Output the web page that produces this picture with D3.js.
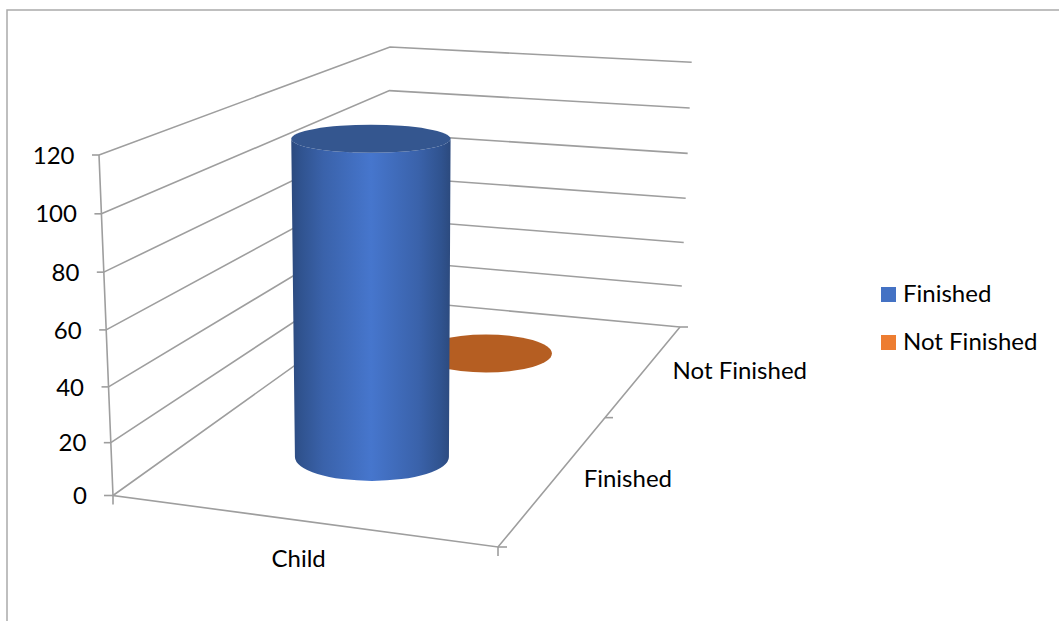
<!DOCTYPE html>
<html>
<head>
<meta charset="utf-8">
<script src="https://cdn.jsdelivr.net/npm/d3@7"></script>
<style>
html,body{margin:0;padding:0;background:#fff;overflow:hidden}
text{font-family:Lato,"Open Sans",sans-serif;fill:#000}
</style>
</head>
<body>
<svg id="chart" width="1059" height="621"></svg>
<script>
const categories = ["Child"];
const seriesNames = ["Finished", "Not Finished"];
const seriesColors = ["#4472c4", "#ed7d31"];
const finishedValues = [119];
const notFinishedValues = [0];
const valueTicks = [0, 20, 40, 60, 80, 100, 120];
const seriesValues = [finishedValues, notFinishedValues];

const FS = 24, GRID = "#9e9e9e";
const svg = d3.select("#chart");

// Perspective box: corners [floor, top] of the plot cube
const corners = {
  fl: [[113, 495.5], [99, 155]],
  fr: [[498, 547], [503, 190]],
  br: [[680, 327], [691.7, 62.3]],
  bl: [[387, 299.5], [390, 47]]
};
const valueScale = d3.scalePow().exponent(1.04).domain([0, 120]).range([0, 1]);
const catScale = d3.scaleLinear().domain([0, categories.length]).range([0, 0.98 * categories.length]);
const uScale = i => catScale(i + 0.5);
// depth is foreshortened: position along the floor for series-band coordinates
const depthScale = d3.scaleLinear().domain([0, 0.5, 1, 1.5, 2]).range([0, 0.307, 0.588, 0.805, 1]);
const rxScale = d3.scaleLinear().domain([0.307, 0.805]).range([77, 66]);
const ryScale = d3.scaleLinear().domain([0.307, 0.805]).range([24, 19]);

function project(u, v, f) {
  const lerp = d3.interpolateNumber;
  const at = (c) => [lerp(c[0][0], c[1][0])(f), lerp(c[0][1], c[1][1])(f)];
  const a = at(corners.fl), b = at(corners.fr), c = at(corners.br), d = at(corners.bl);
  const front = [lerp(a[0], b[0])(u), lerp(a[1], b[1])(u)];
  const back = [lerp(d[0], c[0])(u), lerp(d[1], c[1])(u)];
  return [lerp(front[0], back[0])(v), lerp(front[1], back[1])(v)];
}
const line = d3.line();
const stroke = (sel, w) => sel.attr("fill", "none").attr("stroke", GRID).attr("stroke-width", w);

// Frame
svg.append("path").attr("d", "M7,621V10H1059").call(stroke, 1.5).attr("stroke", "#ababab");

// Gridlines on the two walls
valueTicks.forEach(t => {
  const f = valueScale(t);
  svg.append("path")
    .attr("d", line([project(0, 0, f), project(0, 1, f), project(1, 1, f)]))
    .call(stroke, 1.6);
  const p = project(0, 0, f);
  svg.append("path").attr("d", line([[p[0] - (t === 0 ? 9 : 7), p[1]], p])).call(stroke, 1.6);
  svg.append("text").attr("x", p[0] - 24.5 + (t === 0 ? -1.5 : 0)).attr("y", p[1])
    .attr("dy", "0.36em").attr("text-anchor", "end").attr("font-size", FS).text(t);
});

// Floor edges and axis lines
svg.append("path").attr("d", line([project(0, 0, 1), project(0, 0, 0), project(1, 0, 0), project(1, 1, 0)])).call(stroke, 1.6);
const o = project(0, 0, 0), e = project(1, 0, 0), back = project(1, 1, 0);
svg.append("path").attr("d", line([o, [o[0], o[1] + 9]])).call(stroke, 1.6);
svg.append("path").attr("d", line([e, [e[0], e[1] + 9]])).call(stroke, 1.6);
svg.append("path").attr("d", line([e, [e[0] + 9, e[1]]])).call(stroke, 1.6);
svg.append("path").attr("d", line([back, [back[0] + 8, back[1]]])).call(stroke, 1.6);
const mid = project(1, depthScale(1), 0);
svg.append("path").attr("d", line([mid, [mid[0] + 8, mid[1]]])).call(stroke, 1.6);

// Gradients
const defs = svg.append("defs");
const bodyGrad = defs.append("linearGradient").attr("id", "body").attr("x1", 0).attr("x2", 1).attr("y1", 0).attr("y2", 0);
[[0, "#2c4a7e"], [0.06, "#30538f"], [0.2, "#3a62aa"], [0.5, "#4676cd"], [0.8, "#3a62aa"], [0.94, "#30538f"], [1, "#2c4a7e"]]
  .forEach(s => bodyGrad.append("stop").attr("offset", s[0]).attr("stop-color", s[1]));

// Series drawn back to front
seriesNames.map((n, i) => i).reverse().forEach(si => {
  categories.forEach((cat, ci) => {
    const value = seriesValues[si][ci];
    const v = depthScale(si + 0.5), u = uScale(ci), f = valueScale(value);
    const b = project(u, v, 0), t = project(u, v, f);
    const rxB = rxScale(v), ryB = ryScale(v);
    const rxT = rxB * (1 + 0.035 * f), ryT = ryB * (1 - 0.42 * f);
    if (value === 0) {
      svg.append("ellipse").attr("cx", b[0]).attr("cy", b[1]).attr("rx", rxB).attr("ry", ryB)
        .attr("fill", "#b55e22");
      return;
    }
    svg.append("path")
      .attr("d", `M${t[0] - rxT},${t[1]}L${b[0] - rxB},${b[1]}A${rxB},${ryB} 0 0 0 ${b[0] + rxB},${b[1]}L${t[0] + rxT},${t[1]}A${rxT},${ryT} 0 0 1 ${t[0] - rxT},${t[1]}Z`)
      .attr("fill", "url(#body)");
    svg.append("ellipse").attr("cx", t[0]).attr("cy", t[1]).attr("rx", rxT).attr("ry", ryT)
      .attr("fill", "#34568f");
  });
});

// Category and series axis labels
const catPos = project(uScale(0), 0, 0);
svg.append("text").attr("x", catPos[0] - 3).attr("y", 558).attr("dy", "0.36em")
  .attr("text-anchor", "middle").attr("font-size", FS).text(categories[0]);
svg.append("text").attr("x", 672).attr("y", 478).attr("dy", "0.36em")
  .attr("text-anchor", "end").attr("font-size", FS).text(seriesNames[0]);
svg.append("text").attr("x", 807).attr("y", 370).attr("dy", "0.36em")
  .attr("text-anchor", "end").attr("font-size", FS).text(seriesNames[1]);

// Legend
const legendY = d3.scalePoint().domain(seriesNames).range([294, 342]);
seriesNames.forEach((n, i) => {
  svg.append("rect").attr("x", 881).attr("y", legendY(n) - 7).attr("width", 15).attr("height", 15).attr("fill", seriesColors[i]);
  svg.append("text").attr("x", 903).attr("y", legendY(n) - 0.5).attr("dy", "0.36em").attr("font-size", FS).text(n);
});
</script>
</body>
</html>
